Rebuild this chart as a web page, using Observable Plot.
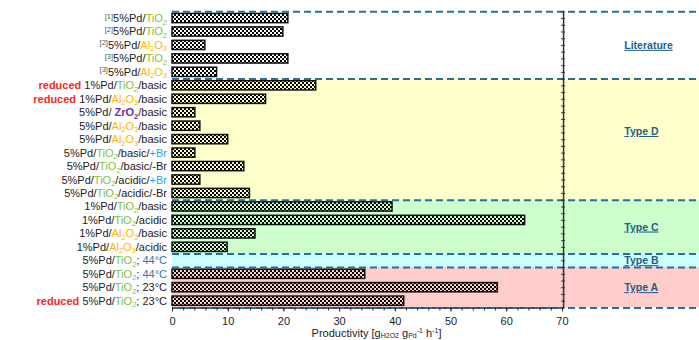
<!DOCTYPE html>
<html><head><meta charset="utf-8">
<script src="https://cdn.jsdelivr.net/npm/d3@7"></script>
<script src="https://cdn.jsdelivr.net/npm/@observablehq/plot@0.6"></script>
<style>
body{margin:0;background:#fff;}
#chart{width:699px;height:340px;overflow:hidden;}
</style>
</head><body><div id="chart"></div>
<script>
// ---- data ----
// label markup: segments "style:text" joined by "|"
const labels = [
  "sup:[1]|:5%Pd/|g:TiO2",
  "sup:[2]|:5%Pd/|g:TiO2",
  "sup:[2]|:5%Pd/|o:Al2O3",
  "sup:[3]|:5%Pd/|g:TiO2",
  "sup:[3]|:5%Pd/|o:Al2O3",
  "r:reduced |:1%Pd/|g:TiO2|:/basic",
  "r:reduced |:1%Pd/|o:Al2O3|:/basic",
  ":5%Pd/ |p:ZrO2|:/basic",
  ":5%Pd/|o:Al2O3|:/basic",
  ":5%Pd/|o:Al2O3|:/basic",
  ":5%Pd/|g:TiO2|:/basic/|b:+Br",
  ":5%Pd/|g:TiO2|:/basic/-Br",
  ":5%Pd/|g:TiO2|:/acidic/|b:+Br",
  ":5%Pd/|g:TiO2|:/acidic/-Br",
  ":1%Pd/|g:TiO2|:/basic",
  ":1%Pd/|g:TiO2|:/acidic",
  ":1%Pd/|o:Al2O3|:/basic",
  ":1%Pd/|o:Al2O3|:/acidic",
  ":5%Pd/|g:TiO2|:; |t:44°C",
  ":5%Pd/|g:TiO2|:; |t:44°C",
  ":5%Pd/|g:TiO2|:; 23°C",
  "r:reduced |:5%Pd/|g:TiO2|:; 23°C"
];
const values = [20.8, 19.9, 5.9, 20.8, 8.0, 25.8, 16.8, 4.1, 5.0, 10.0, 4.1, 12.9, 5.0, 13.9,
                39.5, 63.3, 14.9, 9.9, 0, 34.6, 58.4, 41.6];
const groupNames = ["Literature", "Type D", "Type C", "Type B", "Type A"];
const groupSizes = [5, 9, 4, 1, 3];
const xTicks = [0, 10, 20, 30, 40, 50, 60, 70];
const xMinorTicks = [0,2,4,6,8,10,12,14,16,18,20,22,24,26,28,30,32,34,36,38,40,42,44,46,48,50,52,54,56,58,60,62,64,66,68,70];
const axisTitle = [["", "Productivity [g"], ["sub", "H2O2"], ["", " g"], ["sub", "Pd"], ["sup", "-1"], ["", " h"], ["sup", "-1"], ["", "]"]];

// ---- styles ----
const groupFill = {"Literature": "#ffffff", "Type D": "#ffffcc", "Type C": "#ccffcc", "Type B": "#ccffff", "Type A": "#ffcccc"};
const groupLabelShift = {"Type D": -0.6};
const segStyle = {
  "":   {fill: "#222"},
  sup:  {fill: "#555", sup: true},
  g:    {fill: "#7cc242", chem: true},
  o:    {fill: "#ffb400", chem: true},
  p:    {fill: "#7030a0", chem: true, bold: true},
  r:    {fill: "#ff1f1f", bold: true},
  b:    {fill: "#1ea7e1"},
  t:    {fill: "#2e78b0"}
};
const xFrame = 70.2, xEdge = 94.6, groupLabelX = 81.1;
const dashColor = "#2b6f99";

// ---- derived tables ----
const ends = Array.from(d3.cumsum(groupSizes));
const groups = groupNames.map((name, k) => {
  const start = ends[k] - groupSizes[k];
  return {name, start, end: ends[k], mid: (start + ends[k]) / 2 + (groupLabelShift[name] || 0), fill: groupFill[name]};
});
const bounds = [0, ...ends];
const rows = labels.map((label, i) => ({i, label, value: values[i]}));
const nRows = labels.length;

const plot = Plot.plot({
  width: 699, height: 340,
  marginLeft: 172, marginRight: 0, marginTop: 11.3, marginBottom: 32.6,
  x: {domain: [0, xEdge], label: null},
  y: {domain: [0, nRows], reverse: true, axis: null},
  color: {type: "identity"},
  style: {fontFamily: "'Liberation Sans', Arial, sans-serif", fontSize: "11px", color: "#222", background: "white", overflow: "hidden"},
  marks: [
    Plot.rect(groups, {x1: 0, x2: xEdge, y1: "start", y2: "end", fill: "fill"}),
    Plot.rect(rows, {x1: 0, x2: "value", y1: "i", y2: d => d.i + 1, insetTop: 2.1, insetBottom: 2.1,
      fill: "url(#chk)", stroke: "#111", strokeWidth: 1.5}),
    Plot.ruleY([nRows], {x1: 0, x2: xFrame, stroke: "#111", strokeWidth: 1.5}),
    Plot.ruleY(bounds, {x1: 0, x2: xEdge, stroke: dashColor, strokeWidth: 2, strokeDasharray: "7,4"}),
    Plot.ruleX([xFrame], {y1: 0, y2: nRows, stroke: "#333", strokeWidth: 1.5}),
    Plot.ruleY(d3.range(0, nRows + 0.01, 0.5), {x1: xFrame - 0.35, x2: xFrame + 0.35, stroke: "#333", strokeWidth: 1}),
    Plot.axisX({ticks: xTicks, tickSize: 4, tickPadding: 5, label: null, fill: "#222", fontSize: 11}),
    Plot.axisX({ticks: xMinorTicks, tickSize: 3, tickFormat: () => "", label: null}),
    Plot.text(groups, {x: groupLabelX, y: "mid", text: "name", textAnchor: "start", fontWeight: "bold",
      fill: "#1f5f8b", fontSize: 10.5})
  ]
});

const svg = d3.select(plot);
// checker pattern
const defs = svg.insert("defs", ":first-child");
const pat = defs.append("pattern").attr("id", "chk").attr("patternUnits", "userSpaceOnUse")
  .attr("width", 4).attr("height", 4);
pat.append("rect").attr("x", 0).attr("y", 0).attr("width", 2).attr("height", 2).attr("fill", "#000");
pat.append("rect").attr("x", 2).attr("y", 2).attr("width", 2).attr("height", 2).attr("fill", "#000");

// underline group labels
svg.selectAll("g[aria-label='text'] text").style("text-decoration", "underline");

const xs = plot.scale("x"), ys = plot.scale("y");

function richText(parent, x, y, parts, anchor) {
  const t = parent.append("text").attr("x", x).attr("y", y).attr("text-anchor", anchor);
  let cur = 0;
  function span(txt, shift, size, st) {
    const s = t.append("tspan").text(txt).attr("fill", st.fill || "#222");
    if (shift !== cur) { s.attr("dy", shift - cur); cur = shift; }
    if (size) s.attr("font-size", size);
    if (st.bold) s.attr("font-weight", "bold");
  }
  for (const [key, txt] of parts) {
    const st = segStyle[key] || segStyle[""];
    if (st.sup) { span(txt, -3.5, 7.5, st); continue; }
    if (st.chem) {
      for (const m of txt.match(/\d+|\D+/g)) {
        if (/\d/.test(m)) span(m, 2.5, 7.5, st); else span(m, 0, null, st);
      }
      continue;
    }
    span(txt, 0, null, st);
  }
  return t;
}

const lab = svg.append("g").attr("font-size", 11).attr("font-family", "'Liberation Sans', Arial, sans-serif");
for (const r of rows) {
  const parts = r.label.split("|").map(s => { const k = s.indexOf(":"); return [s.slice(0, k), s.slice(k + 1)]; });
  richText(lab, xs.apply(0) - 5, ys.apply(r.i + 0.5) + 4, parts, "end");
}

// axis title
{
  const t = lab.append("text").attr("x", (xs.apply(0) + xs.apply(xFrame)) / 2 + 9).attr("y", 336.5)
    .attr("text-anchor", "middle").attr("fill", "#222");
  let cur = 0;
  for (const [k, txt] of axisTitle) {
    const shift = k === "sub" ? 1.5 : k === "sup" ? -3.5 : 0;
    const s = t.append("tspan").text(txt);
    if (shift !== cur) { s.attr("dy", shift - cur); cur = shift; }
    if (k) s.attr("font-size", 7);
  }
}

document.getElementById("chart").appendChild(plot);
</script>
</body></html>
